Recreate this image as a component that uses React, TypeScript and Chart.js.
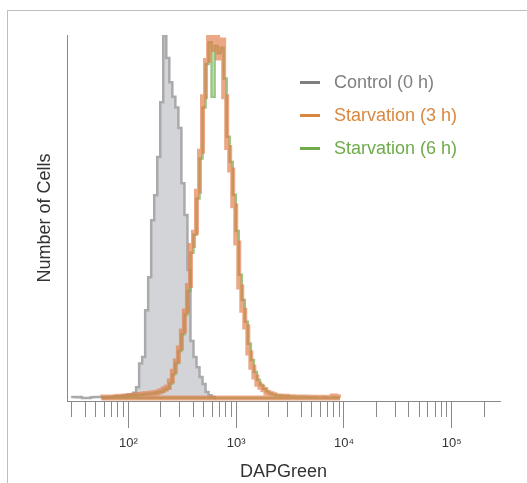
import React, { useEffect, useRef } from 'react';
import { Chart, registerables } from 'chart.js';

Chart.register(...registerables);

const seriesNames = ['Control (0 h)', 'Starvation (3 h)', 'Starvation (6 h)'];
const legendColors = ['#7f7f7f', '#d9873f', '#6fab4b'];

// histogram channels: uniform in log10 space
const channelStartLog = 1.4703;
const channelWidthLog = 0.028;

// counts per channel (channel 0..90), peak = 100
const controlCounts = [
  0.3, 0.3, 0.2, 0.3, 0, 0, 0, 0.2, 0.3, 0.3,
  0.3, 0, 0.2, 0.3, 0.4, 0.5, 0.5, 0.6, 0.8, 1.0,
  1.0, 1.5, 3.0, 9.5, 11.3, 24.2, 33.3, 49, 55.9, 66.4,
  81.5, 100, 93.7, 87, 83, 80, 74.4, 59.2, 50.4, 35.3,
  15.7, 11.3, 8.5, 5.8, 3.9, 1.7, 0.8, 0.3, 0, 0,
  0, 0, 0, 0, 0, 0, 0, 0, 0, 0,
  0, 0, 0, 0, 0, 0, 0, 0, 0, 0,
  0, 0, 0, 0, 0, 0, 0, 0, 0, 0,
  0, 0, 0, 0, 0, 0, 0, 0, 0, 0,
  0,
];

const starvation3Counts = [
  0, 0, 0, 0, 0, 0, 0, 0, 0, 0,
  0.2, 0.3, 0.2, 0.3, 0.3, 0.4, 0.5, 0.5, 0.6, 0.6,
  0.7, 0.8, 0.9, 1.0, 1.1, 1.2, 1.3, 1.4, 1.5, 1.7,
  2.0, 2.5, 3.0, 4.7, 7.4, 10.2, 13.8, 18.5, 24, 31,
  42, 45.7, 57, 68, 83, 93, 100, 96, 99.5, 93.7,
  98.6, 83, 69, 62.8, 53, 42.7, 30.6, 24.2, 19.6, 12.4,
  8.5, 5.8, 3.8, 3.0, 2.3, 1.5, 1.2, 0.9, 0.6, 0.6,
  0.5, 0.5, 0.4, 0.4, 0.3, 0.3, 0.3, 0.2, 0.3, 0.2,
  0.2, 0.2, 0.1, 0.2, 0.1, 0.1, 0.2, 0.6, 0.4, 0,
  0,
];

const starvation6Counts = [
  0, 0, 0, 0, 0, 0, 0, 0, 0, 0,
  0.1, 0.2, 0.3, 0.2, 0.3, 0.3, 0.4, 0.5, 0.5, 0.6,
  0.7, 0.7, 0.8, 0.9, 1.0, 1.1, 1.2, 1.3, 1.4, 1.6,
  1.8, 2.2, 2.7, 4.0, 6.6, 9.6, 13.0, 17.6, 23, 29.5,
  40, 45, 55, 66, 80, 92, 98, 83, 97, 95,
  96.5, 88, 72, 65, 56, 46, 34, 27, 21, 15,
  10.5, 7.2, 5.0, 3.6, 2.6, 1.8, 1.3, 1.0, 0.8, 0.7,
  0.6, 0.5, 0.5, 0.4, 0.4, 0.3, 0.3, 0.3, 0.2, 0.2,
  0.2, 0.2, 0.1, 0.1, 0.2, 0.1, 0.1, 0.3, 0.2, 0,
  0,
];

const majorTickValues = [100, 1000, 10000, 100000];
const majorTickLabels = ['10\u00B2', '10\u00B3', '10\u2074', '10\u2075'];
const minorTickValues = [
  30, 40, 50, 60, 70, 80, 90,
  200, 300, 400, 500, 600, 700, 800, 900,
  2000, 3000, 4000, 5000, 6000, 7000, 8000, 9000,
  20000, 30000, 40000, 50000, 60000, 70000, 80000, 90000,
  200000,
];
const xMin = 27;
const xMax = 280000;
const yMin = -0.8;
const yMax = 100;

const FONT = "'Liberation Sans', Arial, sans-serif";

function toPoints(counts: number[], closeBase: boolean) {
  let first = counts.findIndex((v) => v > 0);
  let last = counts.length - 1;
  while (last > 0 && counts[last] === 0) last--;
  first = Math.max(0, first);
  last = Math.min(counts.length - 1, last + 1);
  const pts: { x: number; y: number }[] = [];
  for (let j = first; j <= last; j++) {
    pts.push({ x: Math.pow(10, channelStartLog + j * channelWidthLog), y: counts[j] });
  }
  if (closeBase) {
    pts.push({ x: pts[pts.length - 1].x, y: 0 });
    pts.push({ x: pts[0].x, y: 0 });
  }
  return pts;
}

export default function App() {
  const ref = useRef<HTMLCanvasElement>(null);

  useEffect(() => {
    if (!ref.current) return;
    const allTicks = [...minorTickValues, ...majorTickValues].sort((a, b) => a - b);
    const chart = new Chart(ref.current, {
      type: 'line',
      data: {
        datasets: [
          {
            label: seriesNames[0],
            data: toPoints(controlCounts, false),
            borderColor: 'rgb(170,170,173)',
            backgroundColor: 'rgb(211,212,215)',
            borderWidth: 2.5,
            fill: 'origin',
            stepped: 'middle',
            pointRadius: 0,
            order: 3,
          },
          {
            label: seriesNames[1],
            data: toPoints(starvation3Counts, true),
            borderColor: 'rgba(226,122,70,0.66)',
            borderWidth: 5,
            fill: false,
            stepped: 'middle',
            pointRadius: 0,
            order: 1,
          },
          {
            label: seriesNames[2],
            data: toPoints(starvation6Counts, true),
            borderColor: 'rgba(128,184,102,0.8)',
            borderWidth: 2.5,
            fill: false,
            stepped: 'middle',
            pointRadius: 0,
            order: 2,
          },
        ],
      },
      options: {
        responsive: false,
        animation: false,
        devicePixelRatio: 1,
        layout: { padding: { left: 34, right: 27, top: 35, bottom: 0 } },
        plugins: {
          legend: { display: false },
          tooltip: { enabled: false },
        },
        scales: {
          x: {
            type: 'logarithmic',
            position: 'bottom',
            min: xMin,
            max: xMax,
            afterBuildTicks: (scale: any) => {
              scale.ticks = allTicks.map((v) => ({ value: v, major: majorTickValues.includes(v) }));
            },
            ticks: {
              autoSkip: false,
              maxRotation: 0,
              minRotation: 0,
              padding: 8,
              color: '#333333',
              font: { family: FONT, size: 13 },
              callback: (value: any) => {
                const i = majorTickValues.indexOf(Number(value));
                return i >= 0 ? majorTickLabels[i] : '';
              },
            },
            grid: {
              display: true,
              drawOnChartArea: false,
              drawTicks: true,
              tickLength: 27,
              tickColor: '#8a8a8a',
              tickWidth: 1,
              tickBorderDash: (ctx: any) =>
                ctx.tick && majorTickValues.includes(ctx.tick.value) ? [] : [15, 40],
            },
            border: { display: true, color: '#8a8a8a', width: 1 },
            title: {
              display: true,
              text: 'DAPGreen',
              color: '#333333',
              font: { family: FONT, size: 18 },
              padding: { top: 1.8, bottom: 0 },
            },
          },
          y: {
            type: 'linear',
            min: yMin,
            max: yMax,
            ticks: { display: false },
            grid: { display: false, drawTicks: false },
            border: { display: true, color: '#8a8a8a', width: 1 },
            title: {
              display: true,
              text: 'Number of Cells',
              color: '#333333',
              font: { family: FONT, size: 18 },
              padding: { top: 0, bottom: 11.4 },
            },
          },
        },
      },
    } as any);
    return () => chart.destroy();
  }, []);

  const legendRowCenters = [82.7, 115.5, 148];

  return (
    <div
      style={{
        position: 'fixed',
        left: 0,
        top: 0,
        width: 527,
        height: 483,
        background: '#ffffff',
        overflow: 'hidden',
      }}
    >
      <div
        style={{
          position: 'absolute',
          left: 7,
          top: 10,
          width: 560,
          height: 520,
          borderTop: '1px solid #bdbdbd',
          borderLeft: '1px solid #bdbdbd',
        }}
      />
      <canvas
        ref={ref}
        width={527}
        height={483}
        style={{ position: 'absolute', left: 0, top: 0, width: 527, height: 483 }}
      />
      {seriesNames.map((name, i) => (
        <div
          key={name}
          style={{
            position: 'absolute',
            left: 300,
            top: legendRowCenters[i] - 12,
            height: 24,
            display: 'flex',
            alignItems: 'center',
            fontFamily: FONT,
            fontSize: 18,
            color: legendColors[i],
            whiteSpace: 'nowrap',
          }}
        >
          <span
            style={{ display: 'inline-block', width: 20, height: 3, background: legendColors[i], marginRight: 14 }}
          />
          <span>{name}</span>
        </div>
      ))}
    </div>
  );
}
